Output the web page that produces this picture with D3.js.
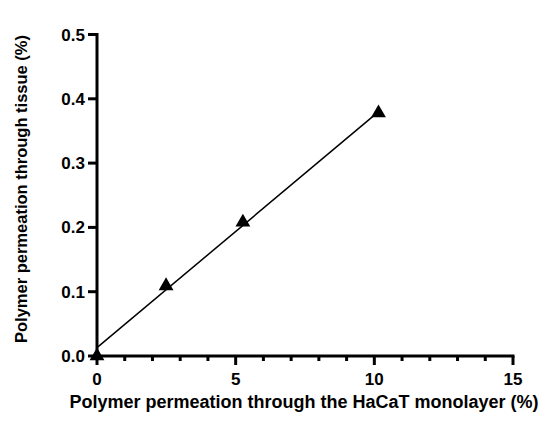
<!DOCTYPE html>
<html><head><meta charset="utf-8">
<script src="https://d3js.org/d3.v7.min.js"></script>
<style>body{margin:0;background:#fff}svg{display:block}text{font-family:"Liberation Sans",Arial,sans-serif;font-weight:bold;fill:#000}</style>
</head><body><svg id="c" width="550" height="430"></svg>
<script>
const pointsX = [0, 2.49, 5.26, 10.15];
const pointsY = [0.0, 0.109, 0.208, 0.378];
const fitX = [0, 10.1];
const fitY = [0.013, 0.378];
const xTicks = [0, 5, 10, 15];
const yTicks = [0.0, 0.1, 0.2, 0.3, 0.4, 0.5];
const xMinor = d3.range(0, 16, 1);

const svg = d3.select("#c");
const x = d3.scaleLinear().domain([0, 15]).range([97, 513]);
const y = d3.scaleLinear().domain([0, 0.5]).range([356, 34.5]);

// fit line
svg.append("line").attr("x1", x(fitX[0])).attr("y1", y(fitY[0])).attr("x2", x(fitX[1])).attr("y2", y(fitY[1]))
  .attr("stroke", "#000").attr("stroke-width", 1.5);

// axes
const xa = svg.append("g").attr("transform", `translate(0,${y(0)})`);
xa.append("line").attr("x1", x(0) - 1.5).attr("x2", x(15) + 1.5).attr("stroke", "#000").attr("stroke-width", 3);
xa.selectAll("line.minor").data(xMinor.filter(d => d % 5 !== 0)).enter().append("line")
  .attr("x1", d => x(d)).attr("x2", d => x(d)).attr("y1", 0).attr("y2", 5).attr("stroke", "#000").attr("stroke-width", 3);
xa.selectAll("line.major").data(xTicks).enter().append("line")
  .attr("x1", d => x(d)).attr("x2", d => x(d)).attr("y1", 0).attr("y2", 9).attr("stroke", "#000").attr("stroke-width", 3);
xa.selectAll("text").data(xTicks).enter().append("text")
  .attr("x", d => x(d)).attr("y", 29).attr("text-anchor", "middle").attr("font-size", 17).text(d => d);

const ya = svg.append("g").attr("transform", `translate(${x(0)},0)`);
ya.append("line").attr("y1", y(0) + 1.5).attr("y2", y(0.5) - 1.5).attr("stroke", "#000").attr("stroke-width", 3);
ya.selectAll("line.major").data(yTicks).enter().append("line")
  .attr("y1", d => y(d)).attr("y2", d => y(d)).attr("x1", 0).attr("x2", -9).attr("stroke", "#000").attr("stroke-width", 3);
ya.selectAll("text").data(yTicks).enter().append("text")
  .attr("x", -12).attr("y", d => y(d) + 6).attr("text-anchor", "end").attr("font-size", 17).text(d => d.toFixed(1));

// points
const tri = d3.symbol().type(d3.symbolTriangle).size(95);
svg.selectAll("path.pt").data(pointsX.map((d, i) => [d, pointsY[i]])).enter().append("path")
  .attr("transform", d => `translate(${x(d[0])},${y(d[1])})`).attr("d", tri).attr("fill", "#000");

// titles
svg.append("text").attr("x", 304).attr("y", 408).attr("text-anchor", "middle").attr("font-size", 18)
  .text("Polymer permeation through the HaCaT monolayer (%)");
svg.append("text").attr("transform", "translate(27,189) rotate(-90)").attr("text-anchor", "middle").attr("font-size", 16.5)
  .text("Polymer permeation through tissue (%)");
</script></body></html>
